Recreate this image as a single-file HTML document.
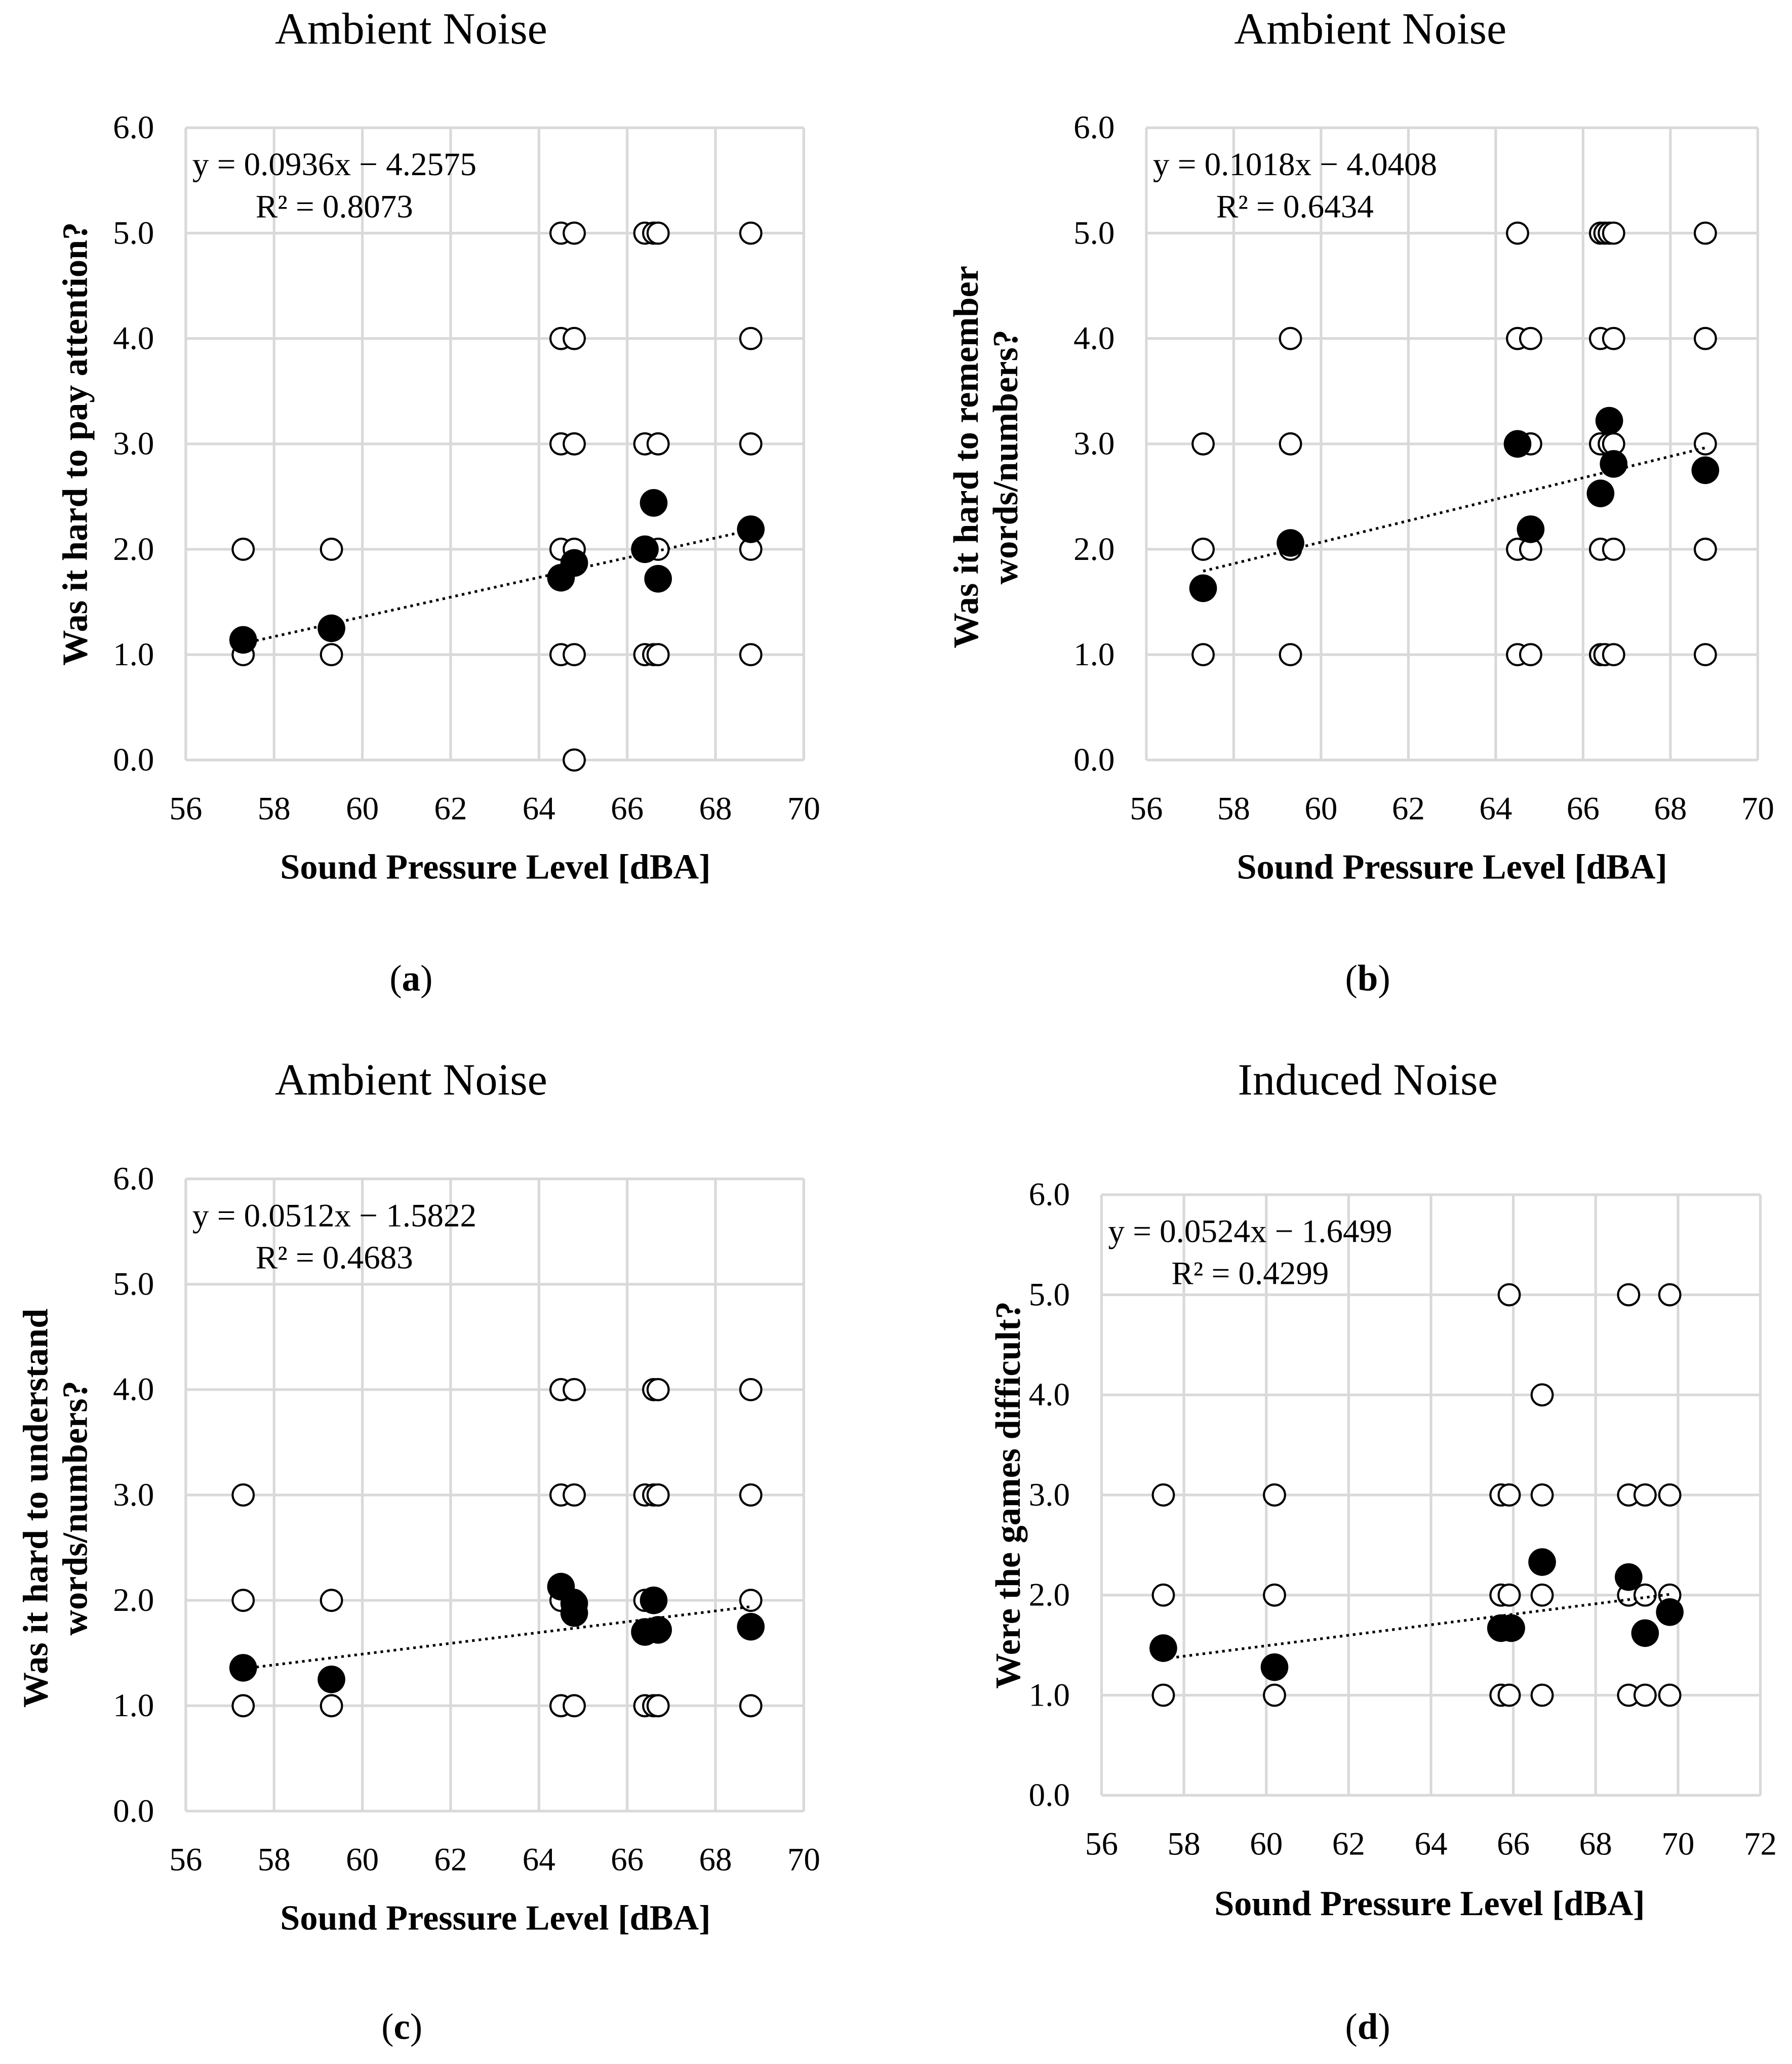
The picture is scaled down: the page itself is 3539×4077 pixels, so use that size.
<!DOCTYPE html>
<html><head><meta charset="utf-8"><style>html,body{margin:0;padding:0;background:#fff}svg{display:block}</style></head>
<body>
<svg id="fig" xmlns="http://www.w3.org/2000/svg" width="3539" height="4077" viewBox="0 0 1360 1567" preserveAspectRatio="none" font-family="'Liberation Serif', serif">
<rect width="1360" height="1567" fill="#fff"/>
</svg>
<script>
// Panel a
const aOpenX = [57.3,57.3,59.3,59.3,64.5,64.5,64.5,64.5,64.5,64.8,64.8,64.8,64.8,64.8,64.8,66.4,66.4,66.4,66.4,66.6,66.6,66.7,66.7,66.7,66.7,68.8,68.8,68.8,68.8,68.8];
const aOpenY = [1,2,1,2,1,2,3,4,5,0,1,2,3,4,5,1,2,3,5,1,5,1,2,3,5,1,2,3,4,5];
const aFillX = [57.3,59.3,64.5,64.8,66.4,66.6,66.7,68.8];
const aFillY = [1.14,1.25,1.73,1.87,2.0,2.44,1.72,2.19];
// Panel b
const bOpenX = [57.3,57.3,57.3,59.3,59.3,59.3,59.3,64.5,64.5,64.5,64.5,64.8,64.8,64.8,64.8,66.4,66.4,66.4,66.4,66.4,66.5,66.5,66.6,66.6,66.7,66.7,66.7,66.7,66.7,68.8,68.8,68.8,68.8,68.8];
const bOpenY = [1,2,3,1,2,3,4,1,2,4,5,1,2,3,4,1,2,3,4,5,1,5,3,5,1,2,3,4,5,1,2,3,4,5];
const bFillX = [57.3,59.3,64.5,64.8,66.4,66.6,66.7,68.8];
const bFillY = [1.63,2.06,3.0,2.19,2.53,3.22,2.81,2.75];
// Panel c
const cOpenX = [57.3,57.3,57.3,59.3,59.3,64.5,64.5,64.5,64.5,64.8,64.8,64.8,64.8,66.4,66.4,66.4,66.6,66.6,66.6,66.6,66.7,66.7,66.7,68.8,68.8,68.8,68.8];
const cOpenY = [1,2,3,1,2,1,2,3,4,1,2,3,4,1,2,3,1,2,3,4,1,3,4,1,2,3,4];
const cFillX = [57.3,59.3,64.5,64.8,64.8,66.4,66.6,66.7,68.8];
const cFillY = [1.36,1.25,2.13,1.97,1.88,1.70,2.0,1.72,1.75];
// Panel d
const dOpenX = [57.5,57.5,57.5,60.2,60.2,60.2,65.7,65.7,65.7,65.9,65.9,65.9,65.9,66.7,66.7,66.7,66.7,68.8,68.8,68.8,68.8,69.2,69.2,69.2,69.8,69.8,69.8,69.8];
const dOpenY = [1,2,3,1,2,3,1,2,3,1,2,3,5,1,2,3,4,1,2,3,5,1,2,3,1,2,3,5];
const dFillX = [57.5,60.2,65.7,65.95,66.7,68.8,69.2,69.8];
const dFillY = [1.47,1.28,1.67,1.67,2.33,2.18,1.62,1.83];
const xTicksA = [56,58,60,62,64,66,68,70];
const xTicksD = [56,58,60,62,64,66,68,70,72];
const yTicks = [0,1,2,3,4,5,6];
const slopes = [0.0936,0.1018,0.0512,0.0524];
const intercepts = [-4.2575,-4.0408,-1.5822,-1.6499];

const NS='http://www.w3.org/2000/svg';
const svg=document.getElementById('fig');
function mk(tag,attrs,parent){const e=document.createElementNS(NS,tag);for(const k in attrs)e.setAttribute(k,attrs[k]);(parent||svg).appendChild(e);return e;}
function txt(s,attrs,parent){const e=mk('text',attrs,parent);e.textContent=s;return e;}

const panels=[
 {id:'a',x0:141,x1:610,y0:577,y1:97,xmin:56,xmax:70,xt:xTicksA,ox:aOpenX,oy:aOpenY,fx:aFillX,fy:aFillY,title:'Ambient Noise',tx:312,ty:33,ylab:['Was it hard to pay attention?'],ylx:[66],yly:337,xlx:376,xly:667,cap:'a',cx:312,cy:752,eq:'y = 0.0936x − 4.2575',r2:'R² = 0.8073',k:0},
 {id:'b',x0:870,x1:1334,y0:577,y1:97,xmin:56,xmax:70,xt:xTicksA,ox:bOpenX,oy:bOpenY,fx:bFillX,fy:bFillY,title:'Ambient Noise',tx:1040,ty:33,ylab:['Was it hard to remember','words/numbers?'],ylx:[742,772],yly:347,xlx:1102,xly:667,cap:'b',cx:1038,cy:752,eq:'y = 0.1018x − 4.0408',r2:'R² = 0.6434',k:1},
 {id:'c',x0:141,x1:610,y0:1375,y1:895,xmin:56,xmax:70,xt:xTicksA,ox:cOpenX,oy:cOpenY,fx:cFillX,fy:cFillY,title:'Ambient Noise',tx:312,ty:831,ylab:['Was it hard to understand','words/numbers?'],ylx:[36,66],yly:1145,xlx:376,xly:1465,cap:'c',cx:305,cy:1548,eq:'y = 0.0512x − 1.5822',r2:'R² = 0.4683',k:2},
 {id:'d',x0:836,x1:1336,y0:1363,y1:907,xmin:56,xmax:72,xt:xTicksD,ox:dOpenX,oy:dOpenY,fx:dFillX,fy:dFillY,title:'Induced Noise',tx:1038,ty:831,ylab:['Were the games difficult?'],ylx:[774],yly:1135,xlx:1085,xly:1454,cap:'d',cx:1038,cy:1548,eq:'y = 0.0524x − 1.6499',r2:'R² = 0.4299',k:3}
];

panels.forEach(p=>{
 const g=mk('g',{});
 
 
 const X=v=>p.x0+(v-p.xmin)/(p.xmax-p.xmin)*(p.x1-p.x0);
 const Y=v=>p.y0+(v-0)/(6-0)*(p.y1-p.y0);
 const t=txt(p.title,{x:p.tx,y:p.ty,'text-anchor':'middle','font-size':34},g);
 
 
 yTicks.forEach(v=>{
  const l=mk('line',{x1:p.x0,x2:p.x1,y1:Y(v),y2:Y(v),stroke:'#d9d9d9','stroke-width':2},g);
  
  
  const tl=txt(v.toFixed(1),{x:p.x0-24,y:Y(v)+8,'text-anchor':'end','font-size':25},g);
  
  
 });
 p.xt.forEach(v=>{
  const l=mk('line',{x1:X(v),x2:X(v),y1:p.y0,y2:p.y1,stroke:'#d9d9d9','stroke-width':2},g);
  
  
  const tl=txt(String(v),{x:X(v),y:p.y0+45,'text-anchor':'middle','font-size':25},g);
  
  
 });
 const xl=txt('Sound Pressure Level [dBA]',{x:p.xlx,y:p.xly,'text-anchor':'middle','font-size':27,'font-weight':'bold'},g);
 
 
 p.ylab.forEach((s,i)=>{
  const yl=txt(s,{x:0,y:0,'text-anchor':'middle','font-size':27,'font-weight':'bold',transform:'translate('+p.ylx[i]+','+p.yly+') rotate(-90)'},g);
  
  
 });
 p.ox.forEach((x,i)=>{
  const c=mk('circle',{cx:X(x),cy:Y(p.oy[i]),r:8,fill:'#fff',stroke:'#000','stroke-width':1.6},g);
  
  
 });
 const xs=p.fx, lo=Math.min(...xs), hi=Math.max(...xs);
 const tr=mk('line',{x1:X(lo),y1:Y(slopes[p.k]*lo+intercepts[p.k]),x2:X(hi),y2:Y(slopes[p.k]*hi+intercepts[p.k]),stroke:'#000','stroke-width':2,'stroke-dasharray':'2 3'},g);
 
 
 p.fx.forEach((x,i)=>{
  const c=mk('circle',{cx:X(x),cy:Y(p.fy[i]),r:10.5,fill:'#000'},g);
  
  
 });
 const e1=txt(p.eq,{x:p.x0+5,y:p.y1+36,'font-size':25},g);
 
 
 const e2=txt(p.r2,{x:p.x0+53,y:p.y1+68,'font-size':25},g);
 
 
 const cp=mk('text',{x:p.cx,y:p.cy,'text-anchor':'middle','font-size':28},g);
 
 
 cp.appendChild(document.createTextNode('('));
 const b=mk('tspan',{'font-weight':'bold'},cp);b.textContent=p.cap;
 cp.appendChild(document.createTextNode(')'));
});
</script>
</body></html>
